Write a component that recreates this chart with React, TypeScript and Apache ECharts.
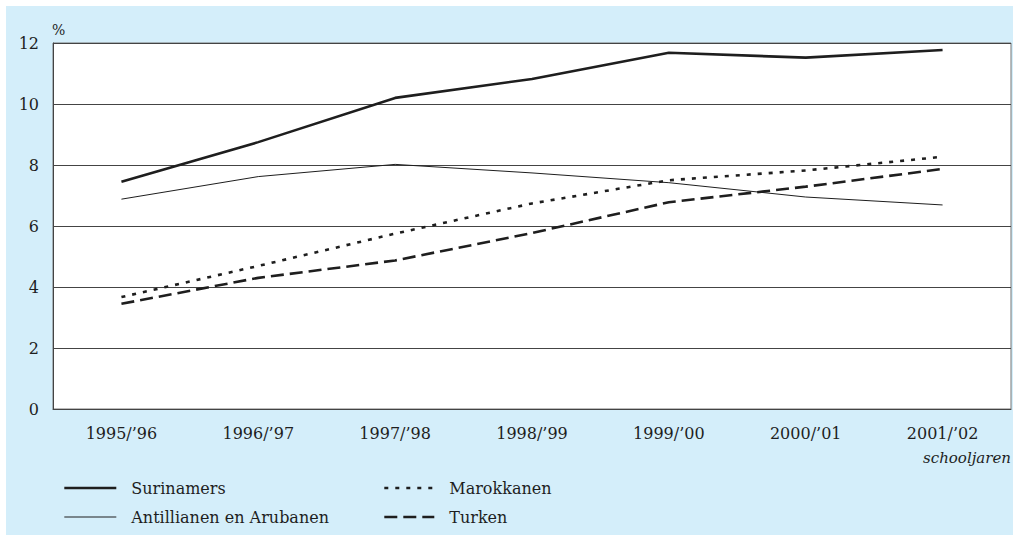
import React, { useEffect, useRef } from "react";
import * as echarts from "echarts";

const categories = ["1995/’96", "1996/’97", "1997/’98", "1998/’99", "1999/’00", "2000/’01", "2001/’02"];
const surinamers = [7.45, 8.75, 10.2, 10.82, 11.68, 11.52, 11.77];
const antillianen = [6.88, 7.62, 8.02, 7.74, 7.42, 6.95, 6.69];
const marokkanen = [3.67, 4.69, 5.75, 6.74, 7.5, 7.82, 8.27];
const turken = [3.45, 4.3, 4.87, 5.77, 6.78, 7.29, 7.87];
const yTicks = { min: 0, max: 12, interval: 2 };

const FONT = "DejaVu Serif";
const FS = 16;
const INK = "#1e1e1e";

export default function App() {
  const ref = useRef<HTMLDivElement>(null);
  useEffect(() => {
    if (!ref.current) return;
    const chart = echarts.init(ref.current, undefined, { renderer: "svg" });
    const mk = (name: string, data: number[], width: number, type: any) => ({
      name,
      type: "line",
      data,
      symbol: "none",
      lineStyle: { color: INK, width, type },
      itemStyle: { color: INK },
      z: 5,
    });
    const legendCommon = {
      orient: "vertical",
      top: 475,
      itemHeight: 20,
      itemGap: 13,
      itemStyle: { opacity: 0 },
      textStyle: { fontFamily: FONT, fontSize: FS, color: INK, padding: [0, 0, 0, 10] },
      selectedMode: false,
    };
    chart.setOption({
      animation: false,
      textStyle: { fontFamily: FONT },
      graphic: [
        {
          type: "rect",
          shape: { x: 6, y: 6, width: 1007, height: 529 },
          style: { fill: "#d4eefa" },
          z: -10,
          silent: true,
        },
        {
          type: "text",
          x: 52,
          y: 30,
          style: { text: "%", fontFamily: FONT, fontSize: 14, fill: INK, verticalAlign: "middle" },
        },
        {
          type: "text",
          x: 1011,
          y: 458,
          style: {
            text: "schooljaren",
            fontFamily: FONT,
            fontSize: 15,
            fontStyle: "italic",
            fill: INK,
            align: "right",
            verticalAlign: "middle",
          },
        },
      ],
      grid: {
        left: 53,
        right: 2,
        top: 43,
        bottom: 128,
        show: true,
        backgroundColor: "#ffffff",
        borderColor: "#777",
        borderWidth: 1,
      },
      legend: [
        {
          ...legendCommon,
          left: 58,
          itemWidth: 52,
          data: [
            { name: "Surinamers", lineStyle: { width: 2.6 } },
            { name: "Antillianen en Arubanen", lineStyle: { width: 1 } },
          ],
        },
        {
          ...legendCommon,
          left: 378,
          itemWidth: 50,
          data: [
            { name: "Marokkanen", lineStyle: { width: 2.6 } },
            { name: "Turken", lineStyle: { width: 2.6 } },
          ],
        },
      ],
      xAxis: {
        type: "category",
        data: categories,
        boundaryGap: true,
        axisLine: { lineStyle: { color: "#444", width: 1 } },
        axisTick: { alignWithLabel: true, length: 6, lineStyle: { color: "#777" } },
        axisLabel: { fontFamily: FONT, fontSize: FS, color: INK, margin: 16 },
        splitLine: { show: false },
      },
      yAxis: {
        type: "value",
        min: yTicks.min,
        max: yTicks.max,
        interval: yTicks.interval,
        axisLine: { show: true, lineStyle: { color: "#444", width: 1 } },
        axisTick: { show: false },
        axisLabel: { fontFamily: FONT, fontSize: FS, color: INK, margin: 14 },
        splitLine: { lineStyle: { color: "#444", width: 1 } },
      },
      series: [
        mk("Surinamers", surinamers, 2.6, "solid"),
        mk("Antillianen en Arubanen", antillianen, 1, "solid"),
        mk("Marokkanen", marokkanen, 2.6, [4, 7]),
        mk("Turken", turken, 2.6, [13, 6]),
      ],
    });
    return () => chart.dispose();
  }, []);
  return (
    <div
      ref={ref}
      style={{ position: "fixed", left: 0, top: 0, width: 1013, height: 537, background: "#ffffff" }}
    />
  );
}
